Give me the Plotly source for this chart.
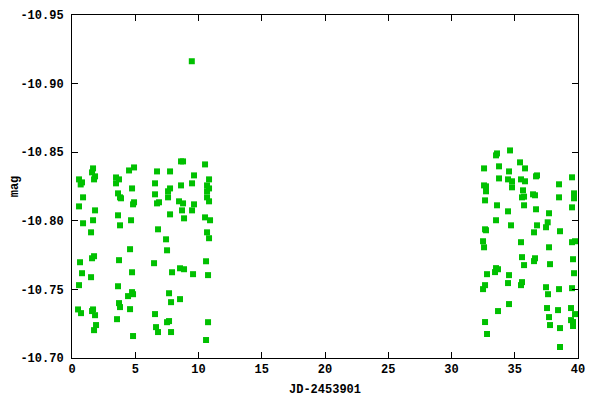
import plotly.graph_objects as go

jd = [
    0.556, 0.793, 0.688, 0.873, 0.556, 0.873, 0.635, 0.793, 0.556, 0.477, 0.714,
    1.663, 1.584, 1.821, 1.742, 1.821, 1.663, 1.505, 1.742, 1.584, 1.505, 1.663,
    1.584, 1.821, 1.900, 1.742,
    3.481, 3.718, 3.481, 3.639, 3.797, 3.876, 3.639, 3.797, 3.718, 3.639, 3.718,
    3.797, 3.560,
    4.509, 4.904, 4.746, 4.825, 4.904, 4.667, 4.588, 4.746, 4.746, 4.825, 4.430,
    4.588, 4.825,
    6.722, 6.564, 6.564, 6.722, 6.880, 6.801, 6.485, 6.564, 6.643, 6.801,
    7.750, 7.750, 7.592, 7.592, 7.750, 7.434, 7.513, 7.908, 7.671, 7.829, 7.513,
    7.671, 7.829,
    8.619, 8.778, 8.619, 8.461, 8.778, 8.698, 8.857, 8.540, 8.857, 8.540,
    9.647, 9.489, 9.647, 9.489, 9.568, 9.470,
    10.517, 10.833, 10.675, 10.833, 10.675, 10.675, 10.833, 10.517, 10.912,
    10.675, 10.833, 10.596, 10.754, 10.754, 10.596,
    32.572, 32.572, 32.730, 32.730, 32.651, 32.651, 32.730, 32.493, 32.572,
    32.809, 32.651, 32.493, 32.651, 32.809,
    33.520, 33.599, 33.757, 33.757, 33.599, 33.520, 33.520, 33.678, 33.441, 33.678,
    34.627, 34.548, 34.469, 34.785, 34.785, 34.469, 34.706, 34.548, 34.469, 34.548,
    35.417, 35.813, 35.496, 35.813, 35.654, 35.575, 35.734, 35.734, 35.496,
    35.575, 35.734, 35.575, 35.496,
    36.682, 36.761, 36.445, 36.603, 36.682, 36.761, 36.524, 36.603, 36.524,
    37.710, 37.605, 37.473, 37.710, 37.789, 37.473, 37.631, 37.552, 37.710, 37.789,
    38.500, 38.500, 38.579, 38.500, 38.421, 38.579, 38.579,
    39.528, 39.686, 39.686, 39.528, 39.528, 39.765, 39.607, 39.686, 39.528,
    39.449, 39.765, 39.449, 39.607, 39.607,
]
mag = [
    -10.8302, -10.8280, -10.8265, -10.8171, -10.8105, -10.7982, -10.7698, -10.7618,
    -10.7531, -10.7354, -10.7327,
    -10.8382, -10.8353, -10.8324, -10.8302, -10.8076, -10.8004, -10.7916, -10.7742,
    -10.7727, -10.7589, -10.7354, -10.7342, -10.7312, -10.7240, -10.7203,
    -10.8316, -10.8302, -10.8273, -10.8200, -10.8171, -10.8164, -10.8040, -10.7967,
    -10.7713, -10.7523, -10.7400, -10.7371, -10.7283,
    -10.8367, -10.8389, -10.8236, -10.8120, -10.8135, -10.8004, -10.7793, -10.7625,
    -10.7480, -10.7465, -10.7451, -10.7356, -10.7160,
    -10.8360, -10.8273, -10.8193, -10.8127, -10.8135, -10.7938, -10.7691, -10.7320,
    -10.7225, -10.7189,
    -10.8360, -10.8236, -10.8215, -10.8171, -10.8047, -10.7865, -10.7785, -10.7625,
    -10.7472, -10.7407, -10.7261, -10.7269, -10.7189,
    -10.8433, -10.8433, -10.8258, -10.8142, -10.8127, -10.8076, -10.8018, -10.7654,
    -10.7647, -10.7429,
    -10.8331, -10.8273, -10.8120, -10.8076, -10.7611, -10.9163,
    -10.8411, -10.8302, -10.8258, -10.8236, -10.8215, -10.8171, -10.8142, -10.8025,
    -10.8004, -10.7916, -10.7873, -10.7705, -10.7604, -10.7261, -10.7131,
    -10.8382, -10.8258, -10.8251, -10.8215, -10.8149, -10.7938, -10.7931, -10.7851,
    -10.7807, -10.7611, -10.7531, -10.7502, -10.7262, -10.7175,
    -10.8477, -10.8491, -10.8397, -10.8309, -10.8113, -10.8004, -10.7655, -10.7647,
    -10.7626, -10.7342,
    -10.8513, -10.8360, -10.8302, -10.8288, -10.8244, -10.8069, -10.7967, -10.7604,
    -10.7546, -10.7393,
    -10.8426, -10.8382, -10.8302, -10.8288, -10.8222, -10.8171, -10.8176, -10.8113,
    -10.7844, -10.7735, -10.7677, -10.7553, -10.7531,
    -10.8324, -10.8331, -10.8193, -10.8186, -10.8084, -10.7967, -10.7916, -10.7727,
    -10.7706,
    -10.8055, -10.7989, -10.7953, -10.7807, -10.7684, -10.7516, -10.7465, -10.7364,
    -10.7298, -10.7240,
    -10.8266, -10.8171, -10.7924, -10.7502, -10.7349, -10.7218, -10.7080,
    -10.8317, -10.8200, -10.8164, -10.8098, -10.7844, -10.7851, -10.7720, -10.7618,
    -10.7509, -10.7364, -10.7320, -10.7276, -10.7262, -10.7233,
]

x_ticks = [0, 5, 10, 15, 20, 25, 30, 35, 40]
y_ticks = [-10.95, -10.90, -10.85, -10.80, -10.75, -10.70]
y_labels = ['-10.95', '-10.90', '-10.85', '-10.80', '-10.75', '-10.70']

font = dict(family='Liberation Mono, DejaVu Sans Mono, monospace', size=12,
            color='black', weight='bold')

fig = go.Figure()
fig.add_trace(go.Scatter(x=jd, y=mag, mode='markers',
                         marker=dict(symbol='square', size=6, color='#00c000',
                                     line=dict(width=0)),
                         cliponaxis=False))

axis_common = dict(showline=True, linecolor='black', linewidth=1,
                   mirror='ticks', ticks='inside', ticklen=6,
                   tickcolor='black', showgrid=False, zeroline=False,
                   tickfont=font, automargin=False)
fig.update_xaxes(range=[0, 40], tickvals=x_ticks,
                 ticktext=[str(t) for t in x_ticks],
                 title=dict(text='JD-2453901', font=font, standoff=8),
                 **axis_common)
fig.update_yaxes(range=[-10.70, -10.95], tickvals=y_ticks, ticktext=y_labels,
                 ticklabelstandoff=5,
                 title=dict(text='mag', font=font, standoff=2),
                 **axis_common)

# the page body adds an 8px margin, so the figure is a bit smaller than the window
fig.update_layout(width=592, height=392,
                  margin=dict(l=64, r=22, t=7, b=42, autoexpand=False),
                  plot_bgcolor='white', paper_bgcolor='white',
                  showlegend=False, font=font)

fig.write_html('out.html')
